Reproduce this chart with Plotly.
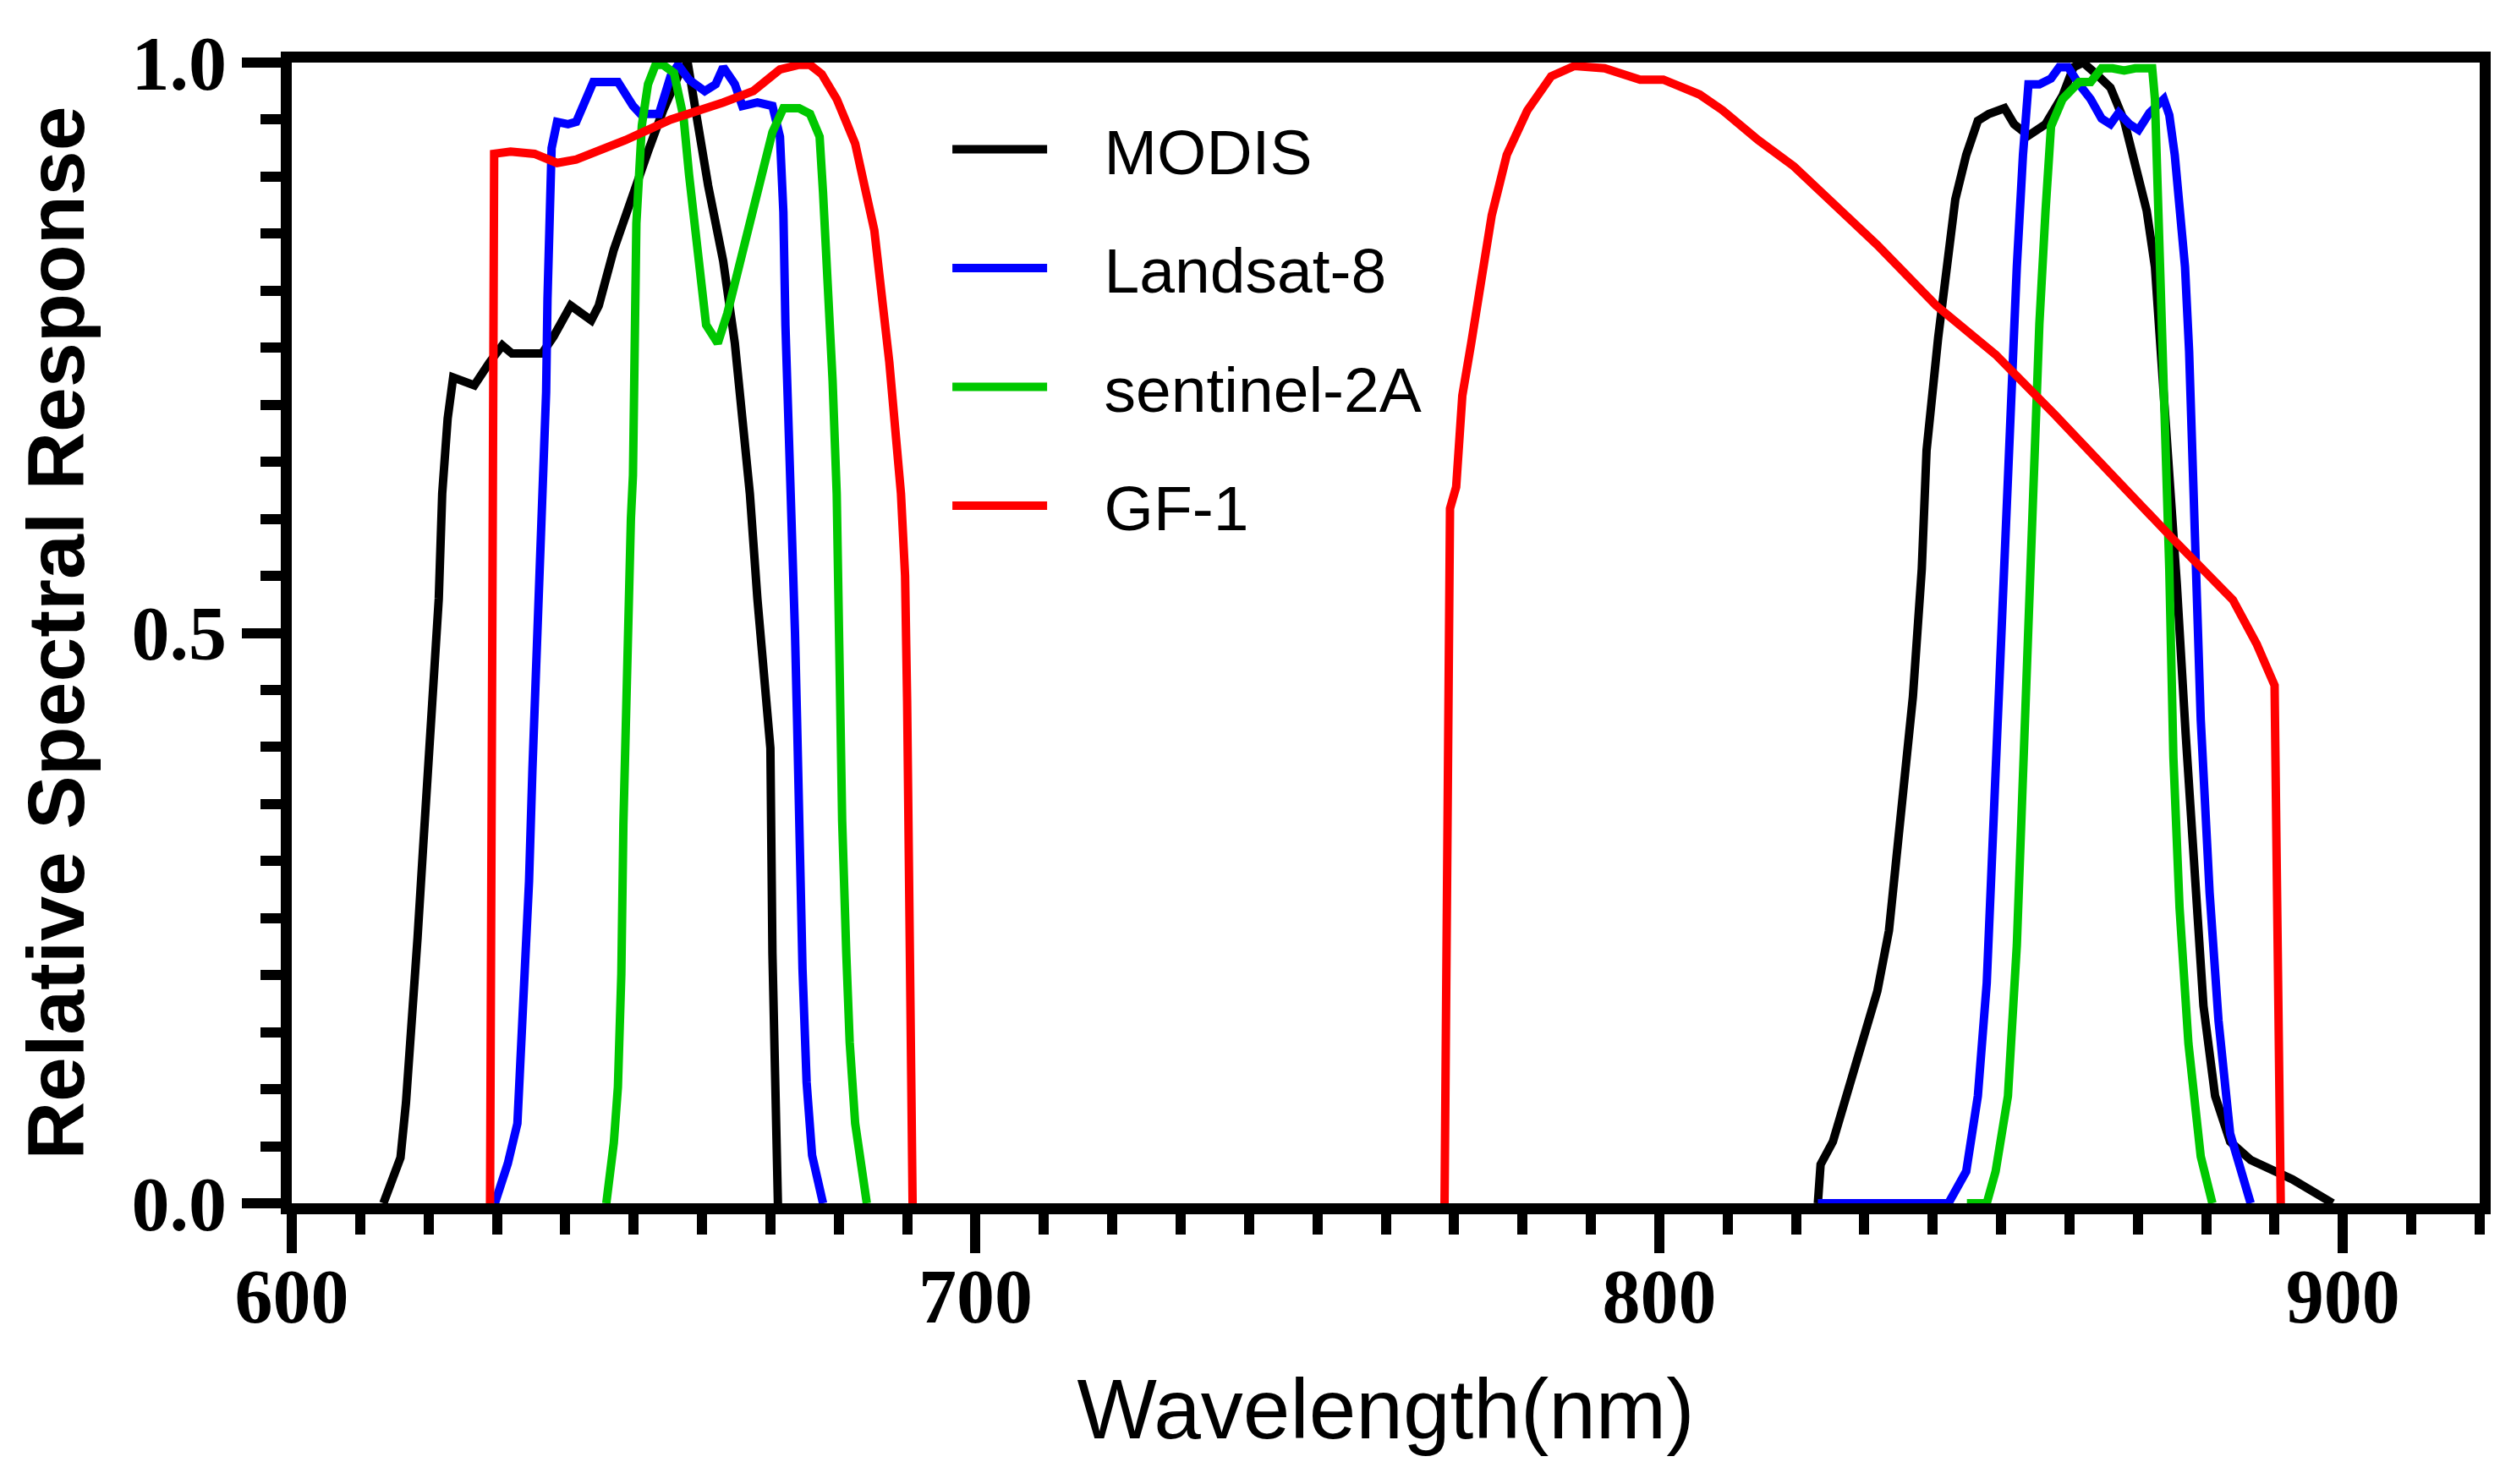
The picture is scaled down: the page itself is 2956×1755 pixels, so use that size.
import plotly.graph_objects as go

# Relative spectral response, red + NIR bands; None splits the two bands
modis_wl = [613.4, 615.9, 616.7, 617.6, 618.4, 619.2, 620.1, 620.9, 621.5, 622.0, 622.8,
            623.6, 624.5, 626.7, 628.9, 630.8, 632.2, 636.6, 638.3, 640.8, 643.8, 644.9,
            647.1, 649.9, 652.1, 654.3, 656.5, 657.9, 659.2, 660.9, 663.1, 664.8, 665.9,
            667.0, 668.1, 669.2, 670.0, 670.3, 670.8, 671.1,
            None,
            823.2, 823.6, 825.4, 828.4, 831.9, 833.6, 835.3, 837.1, 838.4, 839.1, 840.8,
            842.0, 843.3, 844.9, 846.6, 848.2, 850.5, 851.9, 854.0, 856.5, 859.0, 860.6,
            862.0, 863.9, 866.0, 868.0, 869.6, 871.3, 872.5, 873.4, 874.2, 875.7, 877.0,
            878.3, 879.6, 881.3, 883.5, 886.5, 892.6, 898.5]
modis_rsr = [0.0, 0.04, 0.088, 0.159, 0.233, 0.311, 0.389, 0.47, 0.53, 0.622, 0.688,
             0.724, 0.722, 0.717, 0.737, 0.752, 0.745, 0.745, 0.76, 0.787, 0.774, 0.787,
             0.836, 0.886, 0.922, 0.958, 0.988, 1.0, 0.952, 0.892, 0.826, 0.754, 0.688,
             0.622, 0.53, 0.442, 0.399, 0.219, 0.031, 0.0,
             None,
             0.0, 0.034, 0.054, 0.114, 0.186, 0.239, 0.331, 0.444, 0.556, 0.66, 0.759,
             0.821, 0.88, 0.919, 0.949, 0.955, 0.96, 0.946, 0.936, 0.946, 0.971, 0.996,
             1.0, 0.99, 0.978, 0.949, 0.914, 0.87, 0.821, 0.747, 0.673, 0.543, 0.411,
             0.279, 0.173, 0.094, 0.054, 0.038, 0.021, 0.0]

landsat_wl = [629.7, 631.6, 633.0, 633.6, 634.1, 634.7, 635.2, 635.8, 636.3, 636.6, 637.2,
              637.4, 637.7, 638.0, 638.8, 640.4, 641.6, 644.1, 647.7, 649.9, 651.0, 653.7,
              655.4, 656.5, 658.1, 660.4, 662.0, 663.1, 664.8, 665.9, 668.1, 670.3, 671.4,
              671.9, 672.2, 672.8, 673.3, 673.6, 673.9, 674.2, 674.7, 675.3, 676.1, 677.7,
              None,
              823.2, 842.3, 844.9, 846.6, 847.9, 848.8, 849.7, 850.5, 851.4, 852.3, 853.2,
              854.0, 855.6, 857.3, 858.5, 859.8, 861.4, 863.1, 864.7, 866.0, 867.2, 868.8,
              870.1, 871.7, 873.8, 874.6, 875.4, 876.2, 876.9, 877.5, 878.0, 878.6, 879.2,
              880.5, 881.8, 883.5, 886.5]
landsat_rsr = [0.0, 0.035, 0.07, 0.141, 0.212, 0.282, 0.381, 0.484, 0.55, 0.595, 0.711,
               0.793, 0.863, 0.925, 0.948, 0.946, 0.948, 0.983, 0.983, 0.962, 0.955, 0.955,
               0.988, 0.998, 0.985, 0.975, 0.981, 0.996, 0.981, 0.962, 0.965, 0.962, 0.935,
               0.869, 0.77, 0.671, 0.572, 0.5, 0.424, 0.297, 0.205, 0.106, 0.042, 0.0,
               None,
               0.0, 0.0, 0.028, 0.094, 0.193, 0.325, 0.457, 0.589, 0.70, 0.821, 0.919,
               0.981, 0.981, 0.986, 0.996, 0.996, 0.981, 0.968, 0.951, 0.946, 0.956, 0.946,
               0.941, 0.956, 0.968, 0.954, 0.919, 0.87, 0.821, 0.747, 0.66, 0.55, 0.424,
               0.272, 0.16, 0.061, 0.0]

s2a_wl = [646.0, 647.1, 647.7, 648.2, 648.5, 649.0, 649.6, 649.9, 650.1, 650.4, 651.2,
          652.1, 653.2, 654.3, 655.9, 657.3, 658.1, 659.2, 660.6, 662.3, 663.7, 665.9,
          668.1, 670.3, 671.9, 674.2, 675.8, 677.2, 677.7, 678.3, 679.1, 679.7, 679.9,
          680.2, 680.5, 681.1, 681.6, 682.4, 684.1,
          None,
          845.0, 847.9, 849.2, 851.0, 852.3, 853.1, 854.0, 854.8, 855.6, 856.5, 857.3,
          859.0, 861.4, 863.1, 864.7, 866.3, 868.0, 869.6, 872.1, 872.5, 872.9, 873.4,
          873.8, 874.2, 874.6, 875.2, 876.1, 877.4, 879.2, 880.9]
s2a_rsr = [0.0, 0.053, 0.102, 0.201, 0.332, 0.48, 0.60, 0.638, 0.787, 0.859, 0.945,
           0.981, 0.998, 0.998, 0.991, 0.952, 0.902, 0.836, 0.77, 0.754, 0.78, 0.833,
           0.886, 0.939, 0.96, 0.96, 0.955, 0.935, 0.886, 0.82, 0.721, 0.622, 0.53,
           0.452, 0.335, 0.219, 0.141, 0.07, 0.0,
           None,
           0.0, 0.0, 0.028, 0.094, 0.226, 0.358, 0.523, 0.66, 0.771, 0.87, 0.944,
           0.968, 0.983, 0.983, 0.995, 0.995, 0.993, 0.995, 0.995, 0.968, 0.895, 0.796,
           0.722, 0.66, 0.556, 0.391, 0.259, 0.14, 0.041, 0.0]

gf1_wl = [629.0, 629.3, 629.6, 632.0, 635.5, 638.8, 641.6, 648.8, 655.4, 663.1, 667.5,
          671.4, 674.2, 675.8, 677.5, 679.7, 682.4, 685.2, 687.4, 689.1, 689.7, 690.0,
          690.6, 690.8,
          None,
          768.6, 769.0, 769.4, 770.3, 771.2, 772.5, 773.8, 775.5, 777.7, 780.7, 784.2,
          787.6, 792.0, 797.2, 800.6, 805.9, 809.3, 814.5, 819.7, 825.0, 831.9, 840.5,
          849.2, 857.9, 866.6, 875.2, 883.9, 887.4, 890.0, 890.4, 890.9]
gf1_rsr = [0.0, 0.5, 0.92, 0.922, 0.92, 0.912, 0.915, 0.932, 0.95, 0.965, 0.975,
           0.994, 0.998, 0.998, 0.99, 0.968, 0.929, 0.853, 0.737, 0.622, 0.55, 0.44,
           0.18, 0.0,
           None,
           0.0, 0.338, 0.609, 0.628, 0.708, 0.754, 0.806, 0.866, 0.919, 0.958, 0.988,
           0.997, 0.995, 0.985, 0.985, 0.972, 0.958, 0.932, 0.909, 0.879, 0.84, 0.787,
           0.744, 0.691, 0.635, 0.582, 0.529, 0.49, 0.454, 0.252, 0.0]

series = [
    ("MODIS", modis_wl, modis_rsr, "#000000"),
    ("Landsat-8", landsat_wl, landsat_rsr, "#0000ff"),
    ("sentinel-2A", s2a_wl, s2a_rsr, "#00c800"),
    ("GF-1", gf1_wl, gf1_rsr, "#ff0000"),
]

fig = go.Figure()
for name, wl, rsr, color in series:
    # nbsp padding widens the gap between legend key and label
    fig.add_trace(go.Scatter(x=wl, y=rsr, mode="lines", name="\u00a0\u00a0\u00a0" + name,
                             legendgroup=name, line=dict(color=color, width=10)))

tick_font = dict(family="Liberation Serif", size=90, color="black", weight="bold")
axis_common = dict(showline=True, linewidth=13, linecolor="black", mirror=True,
                   showgrid=False, zeroline=False, ticks="outside", ticklen=46,
                   tickwidth=12, tickcolor="black", tickfont=tick_font)

fig.update_layout(
    width=2956, height=1755,
    margin=dict(l=337, r=32, t=66, b=340),
    paper_bgcolor="white", plot_bgcolor="white",
    font=dict(family="Liberation Sans", color="black"),
    showlegend=True,
    legend=dict(x=0.3, y=0.965, xanchor="left", yanchor="top",
                font=dict(family="Liberation Sans", size=75, color="black"),
                itemwidth=112, tracegroupgap=40, bgcolor="rgba(0,0,0,0)"),
    xaxis=dict(range=[600, 920], tickvals=[600, 700, 800, 900], ticklabelstandoff=-26,
               minor=dict(dtick=10, ticks="outside", ticklen=24, tickwidth=12,
                          tickcolor="black"),
               title=dict(text="Wavelength(nm)", standoff=54,
                          font=dict(family="Liberation Sans", size=100)),
               **axis_common),
    yaxis=dict(range=[0, 1], tickvals=[0, 0.5, 1.0], ticktext=["0.0", "0.5", "1.0"],
               minor=dict(dtick=0.05, ticks="outside", ticklen=24, tickwidth=12,
                          tickcolor="black"),
               title=dict(text="Relative Spectral Response", standoff=30,
                          font=dict(family="Liberation Sans", size=95, weight="bold")),
               **axis_common),
)

fig.write_html("out.html")
